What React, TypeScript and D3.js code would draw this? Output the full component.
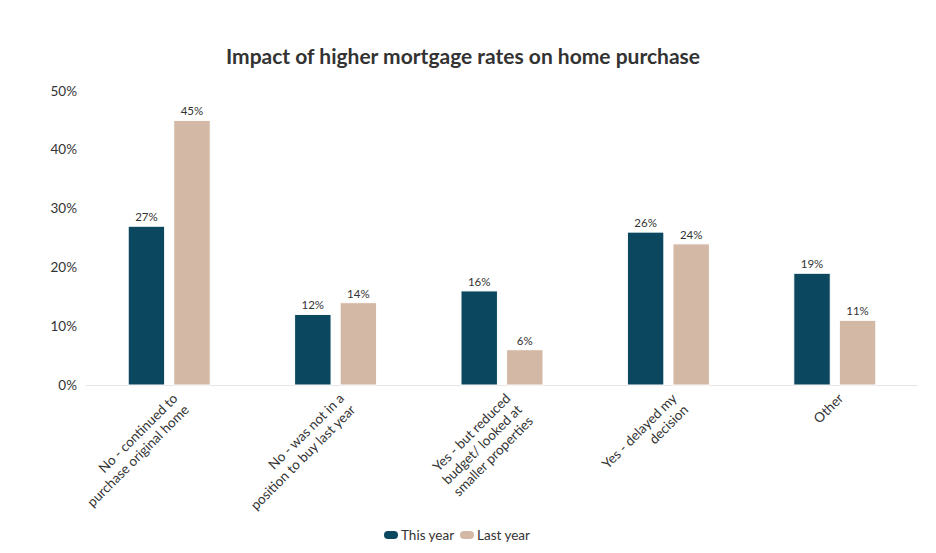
import { useEffect, useRef } from 'react';
import * as d3 from 'd3';

const categories = [
  ['No - continued to', 'purchase original home'],
  ['No - was not in a', 'position to buy last year'],
  ['Yes - but reduced', 'budget/ looked at', 'smaller properties'],
  ['Yes - delayed my', 'decision'],
  ['Other'],
];
const thisYear = [27, 12, 16, 26, 19];
const lastYear = [45, 14, 6, 24, 11];
const seriesNames = ['This year', 'Last year'];
const colors = ['#0b4860', '#d3b8a6'];
const yTicks = [0, 10, 20, 30, 40, 50];

const FONT = 'Lato, "Open Sans", sans-serif';

export default function App() {
  const svgRef = useRef<SVGSVGElement>(null);

  useEffect(() => {
    if (!svgRef.current) return;
    const svg = d3.select(svgRef.current);
    svg.selectAll('*').remove();

    // body has 8px margin, so everything is drawn 8px up/left
    const width = 920, height = 537;
    const margin = { top: 83, right: 10, bottom: 160, left: 78 };
    const w = width - margin.left - margin.right;
    const h = height - margin.top - margin.bottom;

    svg.attr('width', width).attr('height', height).style('font-family', FONT);

    // titel
    svg.append('text')
      .attr('x', 455)
      .attr('y', 56)
      .attr('text-anchor', 'middle')
      .attr('font-size', '21px')
      .attr('font-weight', 700)
      .attr('fill', '#333333')
      .text('Impact of higher mortgage rates on home purchase');

    const g = svg.append('g').attr('transform', `translate(${margin.left},${margin.top})`);

    const x0 = d3.scaleBand<number>().domain(d3.range(categories.length)).range([0, w]);
    const x1 = d3.scaleBand<number>().domain([0, 1]).range([x0.bandwidth() / 2 - 41, x0.bandwidth() / 2 + 41]).paddingInner(0.2);
    const y = d3.scaleLinear().domain([0, 50]).range([h, 0]);

    // y labels
    g.selectAll('.ytick')
      .data(yTicks)
      .enter()
      .append('text')
      .attr('x', -9)
      .attr('y', d => y(d) + 4.5)
      .attr('text-anchor', 'end')
      .attr('font-size', '13.5px')
      .attr('fill', '#333333')
      .text(d => `${d}%`);

    // baseline
    g.append('line')
      .attr('x1', 0).attr('x2', w)
      .attr('y1', h + 0.5).attr('y2', h + 0.5)
      .attr('stroke', '#e6e6e6');

    const series = [thisYear, lastYear];
    series.forEach((vals, si) => {
      const grp = g.append('g');
      grp.selectAll('rect')
        .data(vals)
        .enter()
        .append('rect')
        .attr('x', (_, i) => (x0(i) as number) + (x1(si) as number))
        .attr('y', d => y(d))
        .attr('width', x1.bandwidth())
        .attr('height', d => h - y(d))
        .attr('fill', colors[si])
        .attr('stroke', '#ffffff')
        .attr('stroke-width', 1);

      grp.selectAll('text')
        .data(vals)
        .enter()
        .append('text')
        .attr('x', (_, i) => (x0(i) as number) + (x1(si) as number) + x1.bandwidth() / 2)
        .attr('y', d => y(d) - 5)
        .attr('text-anchor', 'middle')
        .attr('font-size', '11.5px')
        .attr('fill', '#333333')
        .text(d => `${d}%`);
    });

    // x labels (rotated)
    categories.forEach((lines, i) => {
      const cx = (x0(i) as number) + x0.bandwidth() / 2 + 6;
      const t = g.append('text')
        .attr('transform', `translate(${cx},${h + 11}) rotate(-45)`)
        .attr('text-anchor', 'end')
        .attr('font-size', '13.5px')
        .attr('fill', '#333333');
      lines.forEach((ln, li) => {
        t.append('tspan')
          .attr('x', 0)
          .attr('dy', li === 0 ? '0.35em' : 16)
          .text(ln);
      });
    });

    // legend
    const legend = svg.append('g').attr('transform', 'translate(376, 527)');
    const offsets = [0, 76];
    seriesNames.forEach((name, i) => {
      const lg = legend.append('g').attr('transform', `translate(${offsets[i]},0)`);
      lg.append('rect')
        .attr('x', 0).attr('y', -4)
        .attr('width', 14).attr('height', 8)
        .attr('rx', 4)
        .attr('fill', colors[i]);
      lg.append('text')
        .attr('x', 17)
        .attr('y', 4.5)
        .attr('font-size', '13.5px')
        .attr('fill', '#333333')
        .text(name);
    });
  }, []);

  return <svg ref={svgRef} style={{ display: 'block' }}></svg>;
}
